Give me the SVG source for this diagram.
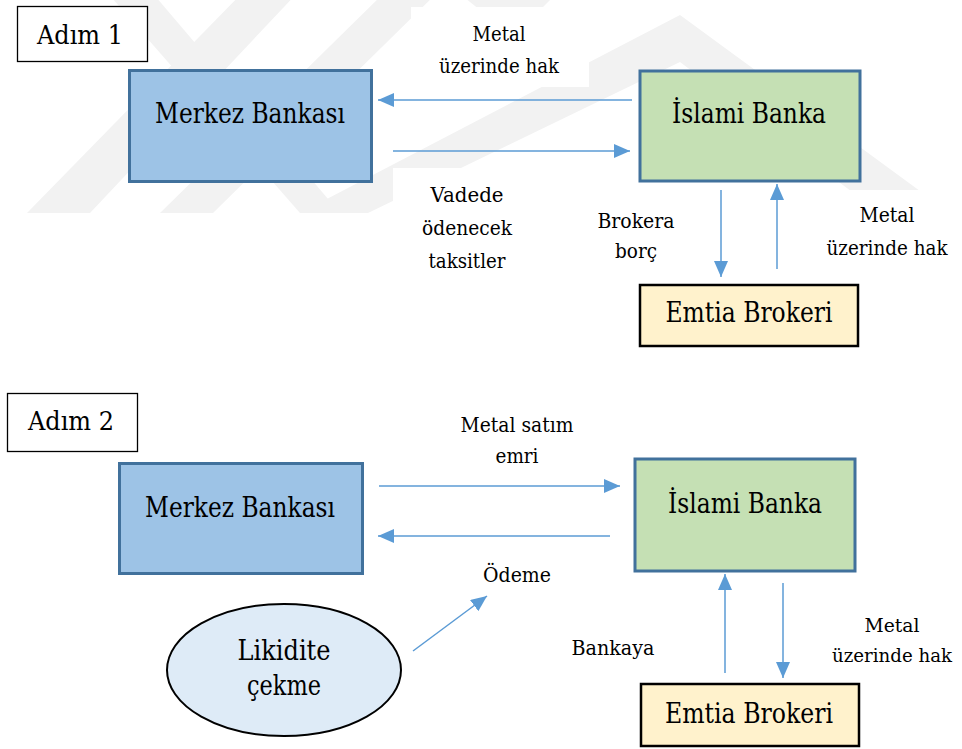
<svg xmlns="http://www.w3.org/2000/svg" width="962" height="749" viewBox="0 0 962 749">
  <defs>
    <style>
      text { font-family: "DejaVu Serif", "Liberation Serif", serif; fill: #000; text-anchor: middle; }
      .node-text { font-size: 27px; }
      .step-text { font-size: 26px; }
      .label { font-size: 20px; }
      .label.small { font-size: 19px; }
      .step { fill: #fff; stroke: #000; stroke-width: 1.3; }
      .bank { fill: #9DC3E6; stroke: #41719C; stroke-width: 3; }
      .islamic { fill: #C5E0B4; stroke: #41719C; stroke-width: 3; }
      .broker { fill: #FFF2CC; stroke: #000; stroke-width: 2.5; }
      .liquidity { fill: #DEEBF7; stroke: #000; stroke-width: 2; }
      .flow { fill: none; stroke: #5B9BD5; stroke-width: 1.5; marker-end: url(#arrow); }
      .mark { fill: #f2f2f2; }
      .textbox { fill: #fff; }
    </style>
    <marker id="arrow" viewBox="0 0 16 14" refX="16" refY="7" markerWidth="16" markerHeight="14" markerUnits="userSpaceOnUse" orient="auto">
      <path d="M0,0 L16,7 L0,14 Z" fill="#5B9BD5"/>
    </marker>
    <clipPath id="mark-clip">
      <rect x="0" y="0" width="962" height="213"/>
    </clipPath>
  </defs>

  <rect width="962" height="749" fill="#fff"/>

  <!-- faint background emblem behind step 1 -->
  <g id="emblem" clip-path="url(#mark-clip)">
    <polygon class="mark" points="27,213 90,213 300,-10 245,-10"/>
    <polygon class="mark" points="105,-10 150,-10 340,213 300,213"/>
    <polygon class="mark" points="160,213 213,213 440,-10 387,-10"/>
    <polygon class="mark" points="300,213 680,15 950,213 880,213 680,62 368,213"/>
    <polygon class="mark" points="455,-10 560,-10 540,10 480,10"/>
  </g>

  <!-- white text boxes of the step 1 labels -->
  <g id="label-boxes">
    <rect class="textbox" x="411" y="7" width="178" height="80"/>
    <rect class="textbox" x="393" y="168" width="174" height="115"/>
    <rect class="textbox" x="580" y="192" width="115" height="80"/>
    <rect class="textbox" x="815" y="190" width="147" height="80"/>
  </g>

  <!-- connectors -->
  <g id="connectors">
    <line class="flow" x1="632" y1="100" x2="378" y2="100"/>
    <line class="flow" x1="393" y1="151" x2="630" y2="151"/>
    <line class="flow" x1="721" y1="190" x2="721" y2="277"/>
    <line class="flow" x1="777" y1="269" x2="777" y2="184"/>
    <line class="flow" x1="379" y1="486" x2="620" y2="486"/>
    <line class="flow" x1="610" y1="536" x2="378" y2="536"/>
    <line class="flow" x1="413" y1="651" x2="487" y2="596"/>
    <line class="flow" x1="725" y1="673" x2="725" y2="574"/>
    <line class="flow" x1="783" y1="583" x2="783" y2="678"/>
  </g>

  <!-- connector labels -->
  <g id="labels">
    <text class="label" x="499" y="41" textLength="53" lengthAdjust="spacingAndGlyphs">Metal</text>
    <text class="label" x="499" y="73" textLength="120" lengthAdjust="spacingAndGlyphs">üzerinde hak</text>
    <text class="label" x="467" y="202" textLength="73" lengthAdjust="spacingAndGlyphs">Vadede</text>
    <text class="label" x="467" y="235" textLength="90" lengthAdjust="spacingAndGlyphs">ödenecek</text>
    <text class="label" x="467" y="268" textLength="77" lengthAdjust="spacingAndGlyphs">taksitler</text>
    <text class="label" x="636" y="228" textLength="77" lengthAdjust="spacingAndGlyphs">Brokera</text>
    <text class="label" x="636" y="258" textLength="42" lengthAdjust="spacingAndGlyphs">borç</text>
    <text class="label" x="887" y="222" textLength="55" lengthAdjust="spacingAndGlyphs">Metal</text>
    <text class="label" x="887" y="255" textLength="121" lengthAdjust="spacingAndGlyphs">üzerinde hak</text>
    <text class="label" x="517" y="432" textLength="113" lengthAdjust="spacingAndGlyphs">Metal satım</text>
    <text class="label" x="517" y="463" textLength="43" lengthAdjust="spacingAndGlyphs">emri</text>
    <text class="label" x="517" y="582" textLength="68" lengthAdjust="spacingAndGlyphs">Ödeme</text>
    <text class="label" x="613" y="655" textLength="83" lengthAdjust="spacingAndGlyphs">Bankaya</text>
    <text class="label small" x="892" y="632" textLength="55" lengthAdjust="spacingAndGlyphs">Metal</text>
    <text class="label small" x="892" y="662" textLength="120" lengthAdjust="spacingAndGlyphs">üzerinde hak</text>
  </g>

  <!-- step 1 -->
  <g id="step1">
    <rect class="step" x="17.5" y="6.5" width="130" height="55"/>
    <text class="step-text" x="80" y="44" textLength="86" lengthAdjust="spacingAndGlyphs">Adım 1</text>
  </g>
  <g id="merkez1">
    <rect class="bank" x="129.5" y="70.5" width="242" height="111"/>
    <text class="node-text" x="250" y="123" textLength="190" lengthAdjust="spacingAndGlyphs">Merkez Bankası</text>
  </g>
  <g id="islami1">
    <rect class="islamic" x="640" y="71" width="220" height="110"/>
    <text class="node-text" x="749" y="123" textLength="154" lengthAdjust="spacingAndGlyphs">İslami Banka</text>
  </g>
  <g id="broker1">
    <rect class="broker" x="640" y="285" width="218" height="61"/>
    <text class="node-text" x="749" y="322" textLength="167" lengthAdjust="spacingAndGlyphs">Emtia Brokeri</text>
  </g>

  <!-- step 2 -->
  <g id="step2">
    <rect class="step" x="7.5" y="393.5" width="130" height="58"/>
    <text class="step-text" x="71" y="430" textLength="86" lengthAdjust="spacingAndGlyphs">Adım 2</text>
  </g>
  <g id="merkez2">
    <rect class="bank" x="119.5" y="463.5" width="243" height="110"/>
    <text class="node-text" x="240" y="517" textLength="190" lengthAdjust="spacingAndGlyphs">Merkez Bankası</text>
  </g>
  <g id="islami2">
    <rect class="islamic" x="635" y="459" width="220" height="112"/>
    <text class="node-text" x="745" y="513" textLength="154" lengthAdjust="spacingAndGlyphs">İslami Banka</text>
  </g>
  <g id="broker2">
    <rect class="broker" x="641" y="684" width="218" height="62"/>
    <text class="node-text" x="749" y="723" textLength="168" lengthAdjust="spacingAndGlyphs">Emtia Brokeri</text>
  </g>
  <g id="likidite">
    <ellipse class="liquidity" cx="284" cy="670" rx="117" ry="66"/>
    <text class="node-text" x="284" y="660" textLength="93" lengthAdjust="spacingAndGlyphs">Likidite</text>
    <text class="node-text" x="284" y="695" textLength="74" lengthAdjust="spacingAndGlyphs">çekme</text>
  </g>
</svg>
